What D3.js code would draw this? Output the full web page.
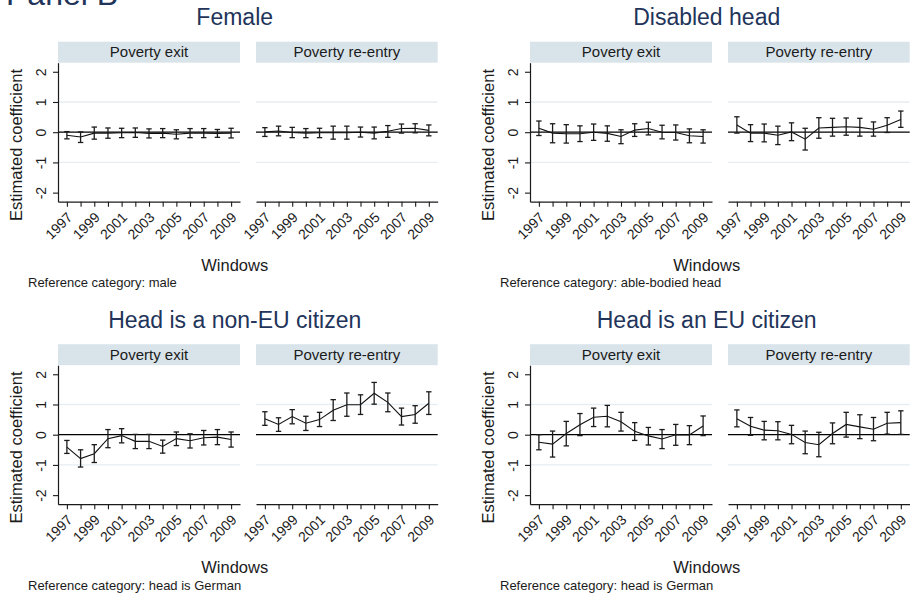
<!DOCTYPE html>
<html>
<head>
<meta charset="utf-8">
<script src="https://cdn.jsdelivr.net/npm/d3@7/dist/d3.min.js"></script>
<style>
  body { margin: 0; background: #fff; }
  svg { display: block; }
  text { font-family: "Liberation Sans", Arial, Helvetica, sans-serif; }
</style>
</head>
<body>
<svg id="chart" width="910" height="597"></svg>
<script>
// ---- Data -------------------------------------------------------------
const years = [1997, 1998, 1999, 2000, 2001, 2002, 2003, 2004, 2005, 2006, 2007, 2008, 2009];
const yTicks = [-2, -1, 0, 1, 2];
const gridValues = [-1, 1];
const panelNames = ["Poverty exit", "Poverty re-entry"];
const figureTitles = ["Female", "Disabled head", "Head is a non-EU citizen", "Head is an EU citizen"];
const figureNotes = [
  "Reference category: male",
  "Reference category: able-bodied head",
  "Reference category: head is German",
  "Reference category: head is German"
];

// Female
const femaleExitCoef = [-0.10, -0.16, -0.03, -0.03, -0.02, -0.01, -0.04, -0.03, -0.07, -0.03, -0.03, -0.04, -0.03];
const femaleExitLo   = [-0.22, -0.34, -0.23, -0.20, -0.18, -0.17, -0.19, -0.18, -0.22, -0.18, -0.18, -0.17, -0.19];
const femaleExitHi   = [ 0.02,  0.01,  0.17,  0.14,  0.13,  0.14,  0.11,  0.12,  0.08,  0.12,  0.12,  0.09,  0.13];
const femaleReCoef   = [ 0.01,  0.04, -0.01, -0.03, -0.02, -0.02, -0.02,  0.00, -0.03,  0.03,  0.12,  0.13,  0.06];
const femaleReLo     = [-0.14, -0.12, -0.18, -0.18, -0.18, -0.23, -0.23, -0.16, -0.22, -0.17, -0.03, -0.02, -0.12];
const femaleReHi     = [ 0.15,  0.20,  0.16,  0.12,  0.13,  0.20,  0.20,  0.17,  0.17,  0.22,  0.27,  0.28,  0.24];

// Disabled head
const disabledExitCoef = [ 0.13, -0.03, -0.05, -0.05,  0.00, -0.04, -0.14,  0.07,  0.12,  0.00, -0.01, -0.12, -0.14];
const disabledExitLo   = [-0.11, -0.35, -0.36, -0.31, -0.27, -0.30, -0.38, -0.14, -0.09, -0.22, -0.26, -0.35, -0.36];
const disabledExitHi   = [ 0.37,  0.28,  0.25,  0.21,  0.27,  0.21,  0.08,  0.28,  0.33,  0.23,  0.24,  0.11,  0.08];
const disabledReCoef   = [ 0.24, -0.03, -0.03, -0.10,  0.01, -0.23,  0.14,  0.16,  0.18,  0.16,  0.10,  0.23,  0.42];
const disabledReLo     = [-0.03, -0.31, -0.32, -0.41, -0.28, -0.59, -0.20, -0.13, -0.10, -0.13, -0.13, -0.01,  0.16];
const disabledReHi     = [ 0.51,  0.25,  0.27,  0.20,  0.31,  0.13,  0.48,  0.46,  0.47,  0.46,  0.34,  0.48,  0.70];

// Head is a non-EU citizen
const nonEuExitCoef = [-0.41, -0.79, -0.63, -0.13, -0.03, -0.22, -0.22, -0.39, -0.13, -0.20, -0.10, -0.08, -0.16];
const nonEuExitLo   = [-0.62, -1.07, -0.92, -0.43, -0.27, -0.46, -0.46, -0.61, -0.36, -0.44, -0.34, -0.33, -0.41];
const nonEuExitHi   = [-0.19, -0.50, -0.33,  0.17,  0.20,  0.01,  0.01, -0.18,  0.09,  0.03,  0.14,  0.17,  0.09];
const nonEuReCoef   = [ 0.53,  0.34,  0.60,  0.38,  0.50,  0.81,  0.99,  0.99,  1.37,  1.07,  0.60,  0.67,  1.04];
const nonEuReLo     = [ 0.31,  0.11,  0.36,  0.14,  0.27,  0.47,  0.61,  0.67,  1.01,  0.76,  0.32,  0.38,  0.67];
const nonEuReHi     = [ 0.76,  0.56,  0.83,  0.61,  0.74,  1.16,  1.38,  1.32,  1.73,  1.38,  0.88,  0.96,  1.42];

// Head is an EU citizen
const euExitCoef = [-0.25, -0.31,  0.04,  0.33,  0.58,  0.61,  0.43,  0.11, -0.04, -0.14,  0.00, -0.01,  0.29];
const euExitLo   = [-0.50, -0.74, -0.37, -0.03,  0.27,  0.26,  0.12, -0.19, -0.34, -0.46, -0.35, -0.33, -0.03];
const euExitHi   = [ 0.00,  0.12,  0.44,  0.70,  0.88,  0.97,  0.74,  0.40,  0.24,  0.17,  0.34,  0.30,  0.62];
const euReCoef   = [ 0.53,  0.28,  0.15,  0.13,  0.01, -0.26, -0.33,  0.04,  0.34,  0.26,  0.18,  0.38,  0.40];
const euReLo     = [ 0.26, -0.02, -0.17, -0.17, -0.30, -0.63, -0.73, -0.30, -0.08, -0.13, -0.20,  0.02,  0.01];
const euReHi     = [ 0.82,  0.57,  0.44,  0.43,  0.31,  0.12,  0.08,  0.39,  0.74,  0.66,  0.57,  0.74,  0.79];

const figurePanels = [
  [[femaleExitCoef, femaleExitLo, femaleExitHi], [femaleReCoef, femaleReLo, femaleReHi]],
  [[disabledExitCoef, disabledExitLo, disabledExitHi], [disabledReCoef, disabledReLo, disabledReHi]],
  [[nonEuExitCoef, nonEuExitLo, nonEuExitHi], [nonEuReCoef, nonEuReLo, nonEuReHi]],
  [[euExitCoef, euExitLo, euExitHi], [euReCoef, euReLo, euReHi]]
];

// ---- Layout -----------------------------------------------------------
const navy = "#22345a";
const ink = "#1b1b1b";
const stripFill = "#d9e4ea";
const gridColor = "#e6eef1";

const figOrigins = [[0, 0], [472, 0], [0, 302.5], [472, 302.5]];
const panelX = [[58, 240], [256, 437.7]];
const stripTop = 41.7, plotTop = 62.7, plotBottom = 201.7;
const capHalf = 2.7;

const svg = d3.select("#chart");
svg.append("rect").attr("width", 910).attr("height", 597).attr("fill", "#fff");

svg.append("text")
  .attr("x", 6).attr("y", 5)
  .attr("font-size", 32).attr("fill", navy)
  .text("Panel B");

const y = d3.scaleLinear().domain([-2.3, 2.3]).range([plotBottom, plotTop]);

figurePanels.forEach((panels, fi) => {
  const [ox, oy] = figOrigins[fi];
  const g = svg.append("g").attr("transform", `translate(${ox},${oy})`);

  g.append("text")
    .attr("x", 234.7).attr("y", 25)
    .attr("text-anchor", "middle")
    .attr("font-size", 23).attr("fill", navy)
    .text(figureTitles[fi]);

  panels.forEach(([coef, lo, hi], pi) => {
    const [x0, x1] = panelX[pi];
    const x = d3.scaleLinear().domain([1996.35, 2009.65]).range([x0, x1]);
    const pg = g.append("g");

    // strip
    pg.append("rect")
      .attr("x", x0).attr("y", stripTop)
      .attr("width", x1 - x0).attr("height", plotTop - stripTop)
      .attr("fill", stripFill);
    pg.append("text")
      .attr("x", (x0 + x1) / 2).attr("y", stripTop + 15.3)
      .attr("text-anchor", "middle")
      .attr("font-size", 15).attr("fill", ink)
      .text(panelNames[pi]);

    // gridlines
    pg.selectAll("line.grid").data(gridValues).join("line")
      .attr("class", "grid")
      .attr("x1", x0).attr("x2", x1)
      .attr("y1", d => y(d)).attr("y2", d => y(d))
      .attr("stroke", gridColor).attr("stroke-width", 1.4);

    // reference line at zero
    pg.append("line")
      .attr("x1", x0).attr("x2", x1)
      .attr("y1", y(0)).attr("y2", y(0))
      .attr("stroke", "#000").attr("stroke-width", 1.3);

    // x axis
    const xAxis = d3.axisBottom(x)
      .tickValues(years)
      .tickSize(5).tickSizeOuter(0)
      .tickFormat(d => (d % 2 === 1 ? String(d) : ""));
    const xg = pg.append("g").attr("transform", `translate(0,${plotBottom})`).call(xAxis);
    xg.select(".domain").attr("stroke", ink).attr("stroke-width", 1.2);
    xg.selectAll(".tick line").attr("stroke", ink).attr("stroke-width", 1.1);
    xg.selectAll(".tick text")
      .attr("x", 0).attr("y", 0).attr("dy", "0.35em")
      .attr("text-anchor", "end")
      .attr("transform", "translate(2.5,13) rotate(-45)")
      .attr("font-size", 14).attr("font-family", null).attr("fill", ink);

    // y axis on the left panel only
    if (pi === 0) {
      const yAxis = d3.axisLeft(y)
        .tickValues(yTicks)
        .tickSize(5).tickSizeOuter(0)
        .tickFormat(d => String(d));
      const yg = pg.append("g").attr("transform", `translate(${x0},0)`).call(yAxis);
      yg.select(".domain").attr("stroke", ink).attr("stroke-width", 1.2);
      yg.selectAll(".tick line").attr("stroke", ink).attr("stroke-width", 1.1);
      yg.selectAll(".tick text")
        .attr("x", 0).attr("y", 0).attr("dy", 0)
        .attr("text-anchor", "middle")
        .attr("transform", "translate(-12,0) rotate(-90)")
        .attr("font-size", 14).attr("font-family", null).attr("fill", ink);
    }

    // connecting line
    const pts = years.map((yr, i) => [yr, coef[i]]);
    pg.append("path")
      .datum(pts)
      .attr("fill", "none")
      .attr("stroke", "#111").attr("stroke-width", 1.1)
      .attr("d", d3.line().x(d => x(d[0])).y(d => y(d[1])));

    // confidence intervals
    const bars = pg.selectAll("g.ci").data(years.map((yr, i) => ({ yr, lo: lo[i], hi: hi[i] })))
      .join("g").attr("class", "ci")
      .attr("stroke", ink).attr("stroke-width", 1.3);
    bars.append("line")
      .attr("x1", d => x(d.yr)).attr("x2", d => x(d.yr))
      .attr("y1", d => y(d.lo)).attr("y2", d => y(d.hi));
    bars.append("line")
      .attr("x1", d => x(d.yr) - capHalf).attr("x2", d => x(d.yr) + capHalf)
      .attr("y1", d => y(d.lo)).attr("y2", d => y(d.lo));
    bars.append("line")
      .attr("x1", d => x(d.yr) - capHalf).attr("x2", d => x(d.yr) + capHalf)
      .attr("y1", d => y(d.hi)).attr("y2", d => y(d.hi));
  });

  // axis titles and note
  g.append("text")
    .attr("transform", "translate(22,145) rotate(-90)")
    .attr("text-anchor", "middle")
    .attr("font-size", 16.5).attr("fill", ink)
    .text("Estimated coefficient");

  g.append("text")
    .attr("x", 234.7).attr("y", 270.5)
    .attr("text-anchor", "middle")
    .attr("font-size", 16.5).attr("fill", ink)
    .text("Windows");

  g.append("text")
    .attr("x", 28).attr("y", 287)
    .attr("font-size", 13).attr("fill", ink)
    .text(figureNotes[fi]);
});
</script>
</body>
</html>
